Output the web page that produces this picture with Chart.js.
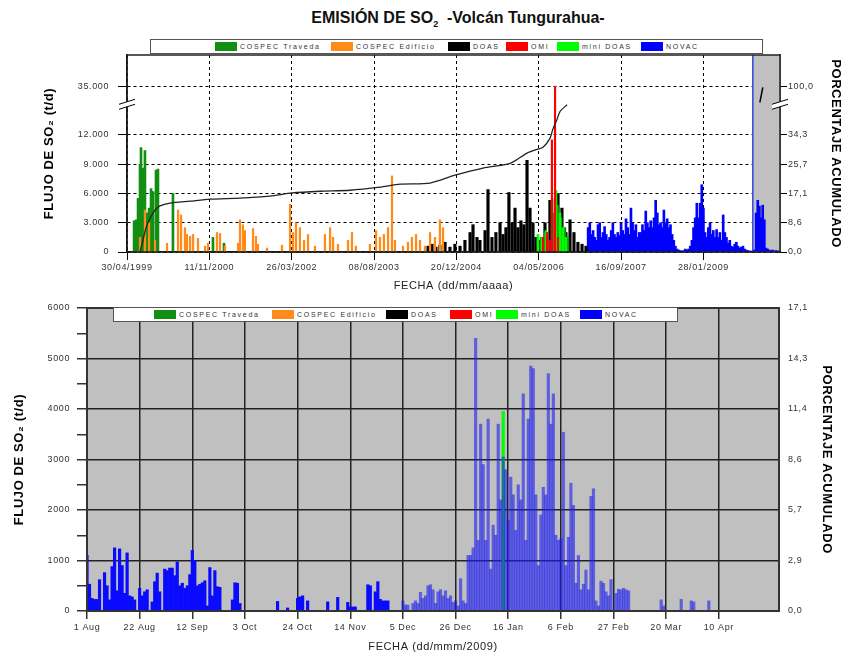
<!DOCTYPE html>
<html>
<head>
<meta charset="utf-8">
<script src="https://cdn.jsdelivr.net/npm/chart.js@4.4.1/dist/chart.umd.min.js"></script>
<style>
  body { margin:0; width:843px; height:658px; position:relative; overflow:hidden; background:#fff;
         font-family:'Liberation Sans', Arial, sans-serif; }
  #title { position:absolute; left:0; width:916px; top:9px; text-align:center; font-weight:bold; font-size:16px; color:#111; }
  #title sub { font-size:9px; }
  .wrap { position:absolute; left:0; }
  .legend { position:absolute; height:15px; box-sizing:border-box; border:1.5px solid #555; background:#fff; z-index:5; }
  .legend .it { position:absolute; top:1.5px; height:9px; display:flex; align-items:center; white-space:nowrap;
                font-size:7px; letter-spacing:1.7px; color:#333; }
  .legend .sw { display:inline-block; width:22px; height:9px; margin-right:3px; }
</style>
</head>
<body>
<div id="title">EMISIÓN DE SO<sub>2</sub>&nbsp; -Volcán Tungurahua-</div>
<div id="legendTop" class="legend" style="left:150px; top:39px; width:613px;"></div>
<div id="legendBot" class="legend" style="left:113px; top:307px; width:565px;"></div>
<div class="wrap" style="top:0; width:843px; height:300px;"><canvas id="topChart" width="843" height="300"></canvas></div>
<div class="wrap" style="top:295px; width:843px; height:363px;"><canvas id="botChart" width="843" height="363"></canvas></div>

<script>
// ---- series / legend ----
const SERIES = ['COSPEC Traveda', 'COSPEC Edificio', 'DOAS', 'OMI', 'mini DOAS', 'NOVAC'];
const SERIES_COLORS = ['#128f12', '#ff8c1a', '#000000', '#ff0000', '#00ff00', '#0000ff'];

// ---- top chart: days counted from 30/04/1999 ----
const TOP_TICK_LABELS = ['30/04/1999', '11/11/2000', '26/03/2002', '08/08/2003', '20/12/2004', '04/05/2006', '16/09/2007', '28/01/2009'];
const TOP_Y_TICKS = [0, 3000, 6000, 9000, 12000, 35000];
const TOP_Y_LABELS = ['0', '3.000', '6.000', '9.000', '12.000', '35.000'];
const TOP_PCT_LABELS = ['0,0', '8,6', '17,1', '25,7', '34,3', '100,0'];
const TOP_MAX_DAY = 3965;
const GRAY_FROM = 3800;

const TRAV_DAYS = [43, 55, 67, 79, 85, 97, 109, 121, 134, 146, 158, 176, 188, 279, 522, 589, 2514, 2538, 2580, 2599, 2617, 2635, 2659, 2677];
const TRAV_VALS = [3200, 3300, 5500, 9000, 10700, 8600, 10400, 4000, 4500, 6500, 6200, 8400, 8500, 6000, 1500, 900, 1500, 2000, 5300, 5500, 4800, 3500, 2500, 1500];

const EDIF_DAYS = [79, 109, 134, 170, 243, 310, 328, 352, 364, 383, 401, 431, 474, 492, 546, 565, 595, 674, 686, 704, 716, 765, 783, 795, 850, 941, 990, 1008, 1026, 1050, 1075, 1099, 1141, 1202, 1233, 1251, 1281, 1342, 1366, 1390, 1475, 1512, 1536, 1560, 1585, 1609, 1627, 1676, 1706, 1730, 1755, 1779, 1809, 1840, 1870, 1900, 1919];
const EDIF_VALS = [1500, 4300, 3000, 1200, 900, 4300, 3800, 2500, 1800, 1600, 1800, 1400, 600, 900, 2000, 1900, 600, 900, 3300, 2800, 2200, 2400, 1600, 800, 400, 700, 4900, 2000, 3000, 2500, 1200, 1800, 600, 1800, 2500, 1500, 800, 1200, 2000, 600, 800, 2200, 1500, 1800, 2500, 7800, 1200, 600, 1000, 1500, 1800, 1200, 600, 2000, 1500, 3300, 2500];

const DOAS_DAYS = [1828, 1852, 1876, 1900, 1931, 1961, 1991, 2022, 2052, 2083, 2101, 2125, 2143, 2174, 2192, 2216, 2240, 2265, 2283, 2301, 2319, 2338, 2356, 2374, 2392, 2410, 2429, 2447, 2465, 2483, 2508, 2538, 2568, 2599, 2617, 2641, 2665, 2690, 2714, 2738, 2763, 2787];
const DOAS_VALS = [600, 800, 500, 700, 1000, 500, 800, 600, 1200, 2000, 2800, 1500, 1200, 2200, 6400, 1500, 2000, 3000, 1800, 2500, 6100, 3000, 4500, 2500, 3200, 2800, 9400, 4500, 3000, 1500, 1200, 3000, 5300, 4000, 6000, 4500, 2000, 3300, 2000, 1000, 800, 600];

const OMI_DAYS = [2526, 2550, 2568, 2580, 2599, 2617];
const OMI_VALS = [1500, 2000, 1200, 11500, 35000, 1500];

const MINI_DAYS = [2495, 2520, 2544, 2605, 2629, 2647, 2665];
const MINI_VALS = [1800, 1500, 2200, 6300, 4000, 2500, 1500];

const NOVAC_START = 2800, NOVAC_STEP = 10;
const NOVAC_VALS = [
  2500, 3000, 1800, 2200, 1500, 1200, 2800, 3000,
  1500, 2000, 2600, 1800, 1200, 1500, 2200, 3000, 1800, 1500, 2000, 1700,
  3000, 2200, 1800, 3400, 2500, 1800, 4500, 3000, 2200, 2800, 1500, 2000,
  2000, 2800, 2200, 4200, 3000, 2500, 3200, 2500, 3500, 5300, 4000, 2800,
  3000, 2500, 4300, 3000, 3400, 2500, 2800, 1800, 1200, 600, 300, 200,
  150, 100, 150, 300, 200, 300, 600, 1200, 2500, 3500, 5000, 3500,
  5000, 6900, 4500, 2000, 1500, 2500, 3000, 1800, 2200, 1500, 2300, 1500, 2000, 1200, 3800, 2000,
  1500, 900, 1200, 600, 500, 800, 1000, 600, 400, 500, 600, 300, 200, 150, 100, 100,
  0, 200, 4000, 5300, 4700, 3500, 4800, 3300, 400, 300, 200, 150, 200, 100, 150, 100, 100
];

const CUM_DAYS = [79, 97, 115, 140, 170, 200, 261, 383, 504, 686, 868, 1002, 1172, 1354, 1536, 1658, 1840, 1991, 2162, 2326, 2429, 2490, 2526, 2568, 2586, 2611, 2629, 2672];
const CUM_PCT = [0, 3.5, 7.0, 9.9, 12.3, 13.5, 14.3, 14.9, 15.5, 15.8, 16.4, 17.3, 17.8, 18.1, 19.0, 19.9, 20.2, 22.5, 24.6, 26.0, 29.0, 30.1, 30.7, 33.3, 42.2, 55.3, 65.8, 75.0];

// ---- bottom chart: days counted from 1 Aug 2008 ----
const BOT_TICK_LABELS = ['1 Aug', '22 Aug', '12 Sep', '3 Oct', '24 Oct', '14 Nov', '5 Dec', '26 Dec', '16 Jan', '6 Feb', '27 Feb', '20 Mar', '10 Apr'];
const BOT_PCT_LABELS = ['0,0', '2,9', '5,7', '8,6', '11,4', '14,3', '17,1'];
const BOT_MAX_DAY = 276;
const BOT_DAYS = [0, 1, 2, 3, 4, 5, 7, 8, 9, 10, 11, 12, 13, 14, 15, 16, 17, 18, 19, 21, 22, 23, 24, 26, 27, 28, 29, 31, 32, 33, 34, 35, 36, 37, 38, 39, 40, 41, 42, 43, 44, 45, 46, 47, 48, 49, 50, 51, 52, 53, 58, 59, 60, 61,
  76, 80, 84, 85, 86, 88, 96, 100, 104, 105, 106, 107, 112, 113, 115, 116, 117, 118, 119, 120,
  126, 127, 128, 130, 131, 132, 133, 134, 135, 136, 137, 138, 139, 140, 141, 142, 143, 144, 145, 146, 147, 148, 149, 150, 151,
  152, 153, 154, 155, 156, 157, 158, 159, 160, 161, 162, 163, 164, 165, 166, 167, 168, 169, 170, 171, 172, 173, 174, 175, 176, 177, 178, 179, 180,
  181, 182, 183, 184, 185, 186, 187, 188, 189, 190, 191, 192, 193, 194, 195, 196, 197, 198, 199, 200, 201, 202, 203, 204, 205, 206, 207, 208, 209,
  211, 212, 213, 214, 215, 216, 229, 230, 237, 241, 242, 248];
const BOT_NOVAC = [1100, 530, 250, 230, 230, 620, 760, 500, 220, 880, 1250, 400, 1230, 900, 350, 1150, 300, 280, 220, 450, 300, 380, 420, 180, 580, 750, 380, 830, 800, 850, 850, 700, 970, 500, 550, 450, 500, 720, 1200, 1000, 500, 530, 560, 600, 100, 860, 300, 800, 480, 470, 220, 560, 550, 150,
  190, 60, 250, 280, 300, 200, 180, 270, 170, 80, 80, 80, 520, 500, 380, 580, 230, 200, 200, 200,
  200, 120, 120, 150, 200, 150, 370, 250, 300, 500, 520, 420, 150, 380, 420, 300, 400, 250, 300, 170, 200, 100, 640, 200, 150,
  1100, 1100, 1250, 5400, 1400, 3700, 2900, 1400, 3800, 830, 1700, 1500, 3700, 2200, 3050, 2800, 1800, 2650, 2300, 1600, 2500, 2200, 4300, 1400, 3800, 4850, 4800, 2300, 900,
  1900, 2450, 2300, 4700, 3700, 4300, 1500, 1400, 1430, 3540, 900, 1460, 2530, 2090, 550, 1100, 420, 530, 810, 420, 2270, 2420, 200, 100, 590, 550, 380, 300, 620,
  350, 430, 420, 450, 420, 400, 220, 100, 230, 200, 180, 200];
const BOT_MINI_DAYS = [166];
const BOT_MINI_VALS = [3950];

// axis break on the top chart: 12.000 -> 35.000 squeezed into 5.000 units
function brk(v) { return v <= 12000 ? v : 12000 + (v - 12000) * 5000 / 23000; }
function pctToFlux(p) { return p <= 34.3 ? p * 12000 / 34.3 : 12000 + (p - 34.3) * 5000 / 65.7; }
function pts(days, vals, f) { return days.map((d, i) => ({ x: d, y: f ? f(vals[i]) : vals[i] })); }

Chart.defaults.font.family = "'Liberation Sans', Arial, sans-serif";
Chart.defaults.color = '#333';

// legends (html boxes like the original)
function buildLegend(id, lefts) {
  const box = document.getElementById(id);
  SERIES.forEach((name, i) => {
    const it = document.createElement('div');
    it.className = 'it';
    it.style.left = lefts[i] + 'px';
    it.innerHTML = `<span class="sw" style="background:${SERIES_COLORS[i]}"></span>${name}`;
    box.appendChild(it);
  });
}
buildLegend('legendTop', [64, 180, 297, 355, 406, 490]);
buildLegend('legendBot', [40, 158, 272, 336, 382, 466]);

function frame(ctx, a, w, color) {
  ctx.save();
  ctx.strokeStyle = color; ctx.lineWidth = w;
  ctx.strokeRect(a.left, a.top, a.right - a.left, a.bottom - a.top);
  ctx.restore();
}
function breakMark(ctx, x, y) {
  ctx.save();
  ctx.fillStyle = '#fff';
  ctx.beginPath();
  ctx.moveTo(x - 8, y + 1); ctx.lineTo(x + 8, y - 4); ctx.lineTo(x + 8, y + 1); ctx.lineTo(x - 8, y + 6);
  ctx.closePath(); ctx.fill();
  ctx.strokeStyle = '#000'; ctx.lineWidth = 1;
  ctx.beginPath();
  ctx.moveTo(x - 8, y + 1); ctx.lineTo(x + 8, y - 4);
  ctx.moveTo(x - 8, y + 6); ctx.lineTo(x + 8, y + 1);
  ctx.stroke();
  ctx.restore();
}

// slightly spaced lettering, as in the original
const spacing = {
  id: 'spacing',
  beforeDraw(chart) { chart.ctx.letterSpacing = '0.6px'; }
};

const topDecor = {
  id: 'topDecor',
  beforeDatasetsDraw(chart) {
    const { ctx, chartArea: a, scales: { x } } = chart;
    const gx = x.getPixelForValue(GRAY_FROM);
    ctx.save();
    ctx.fillStyle = '#c0c0c0';
    ctx.fillRect(gx, a.top, a.right - gx, a.bottom - a.top);
    ctx.strokeStyle = '#3344dd'; ctx.lineWidth = 1.5;
    ctx.beginPath(); ctx.moveTo(gx, a.top); ctx.lineTo(gx, a.bottom); ctx.stroke();
    ctx.restore();
  },
  afterDraw(chart) {
    const { ctx, chartArea: a, scales: { x, y } } = chart;
    frame(ctx, a, 1.5, '#222');
    const by = y.getPixelForValue(15250);
    breakMark(ctx, a.left, by);
    breakMark(ctx, a.right, by);
    const gx = x.getPixelForValue(GRAY_FROM);
    ctx.save();
    ctx.strokeStyle = '#000'; ctx.lineWidth = 1.5;
    ctx.beginPath(); ctx.moveTo(gx + 7, by - 1); ctx.lineTo(gx + 10, by - 16); ctx.stroke();
    ctx.restore();
  }
};

const botDecor = {
  id: 'botDecor',
  beforeDraw(chart) {
    const { ctx, chartArea: a } = chart;
    ctx.save();
    ctx.fillStyle = '#c0c0c0';
    ctx.fillRect(a.left, a.top, a.right - a.left, a.bottom - a.top);
    ctx.restore();
  },
  afterDraw(chart) { frame(chart.ctx, chart.chartArea, 2, '#333'); }
};

const tickFont = { size: 9 };
const axTitle = { size: 13, weight: 'bold' };

function barSet(label, color, data, thick) {
  return { type: 'bar', label, data, backgroundColor: color, barThickness: thick, grouped: false, borderWidth: 0 };
}

// ---------- top chart ----------
new Chart(document.getElementById('topChart'), {
  type: 'bar',
  data: {
    datasets: [
      { type: 'line', label: 'acumulado', data: pts(CUM_DAYS, CUM_PCT, pctToFlux), borderColor: '#222', borderWidth: 1.3,
        pointRadius: 0, tension: 0.25, fill: false },
      barSet(SERIES[3], SERIES_COLORS[3], pts(OMI_DAYS, OMI_VALS, brk), 1.5),
      barSet(SERIES[4], SERIES_COLORS[4], pts(MINI_DAYS, MINI_VALS, brk), 2),
      barSet(SERIES[1], SERIES_COLORS[1], pts(EDIF_DAYS, EDIF_VALS, brk), 1.6),
      barSet(SERIES[0], SERIES_COLORS[0], pts(TRAV_DAYS, TRAV_VALS, brk), 2),
      barSet(SERIES[2], SERIES_COLORS[2], pts(DOAS_DAYS, DOAS_VALS, brk), 2.5),
      barSet(SERIES[5], SERIES_COLORS[5], NOVAC_VALS.map((v, i) => ({ x: NOVAC_START + i * NOVAC_STEP, y: v })), 2)
    ]
  },
  options: {
    responsive: false, animation: false,
    layout: { padding: { top: 55, left: 0, right: 0, bottom: 0 } },
    plugins: { legend: { display: false }, tooltip: { enabled: false } },
    scales: {
      x: {
        type: 'linear', min: 0, max: TOP_MAX_DAY, offset: false,
        afterBuildTicks: s => { s.ticks = TOP_TICK_LABELS.map((_, i) => ({ value: i * 500 })); },
        afterFit: s => { s.height = 48; },
        ticks: { callback: (v, i) => TOP_TICK_LABELS[i], font: tickFont, maxRotation: 0, autoSkip: false, padding: 2 },
        grid: { offset: false, color: '#000', lineWidth: 1, tickLength: 8 },
        border: { dash: [3, 3], color: '#000', width: 1.5 },
        title: { display: true, text: 'FECHA (dd/mm/aaaa)', font: { size: 11 }, color: '#222', padding: { top: 0, bottom: 7 } }
      },
      y: {
        type: 'linear', position: 'left', min: 0, max: 20200,
        afterBuildTicks: s => { s.ticks = TOP_Y_TICKS.map(v => ({ value: brk(v) })); },
        afterFit: s => { s.width = 127; },
        ticks: { callback: (v, i) => TOP_Y_LABELS[i], font: tickFont, padding: 9 },
        grid: { color: '#000', lineWidth: 1, tickLength: 9 },
        border: { dash: [3, 3], color: '#000', width: 1.5 },
        title: { display: true, text: 'FLUJO DE SO₂ (t/d)', font: axTitle, color: '#000', padding: { top: 42, bottom: 0 } }
      },
      y2: {
        type: 'linear', position: 'right', min: 0, max: 20200,
        afterBuildTicks: s => { s.ticks = TOP_Y_TICKS.map(v => ({ value: brk(v) })); },
        afterFit: s => { s.width = 63; },
        ticks: { callback: (v, i) => TOP_PCT_LABELS[i], font: tickFont, padding: 1 },
        grid: { drawOnChartArea: false, color: '#000', tickLength: 7 },
        border: { dash: [3, 3], color: '#000', width: 1.5 },
        title: { display: true, text: 'PORCENTAJE ACUMULADO', font: axTitle, color: '#000', padding: { top: 0, bottom: 0 } }
      }
    }
  },
  plugins: [spacing, topDecor]
});

// ---------- bottom chart ----------
new Chart(document.getElementById('botChart'), {
  type: 'bar',
  data: {
    datasets: [
      { type: 'bar', label: SERIES[5], data: pts(BOT_DAYS, BOT_NOVAC), grouped: false, borderWidth: 0,
        barPercentage: 1, categoryPercentage: 1,
        backgroundColor: c => (c.raw && c.raw.x < 124) ? '#0a0aff' : 'rgba(30,30,240,0.6)' },
      { type: 'bar', label: SERIES[4], data: pts(BOT_MINI_DAYS, BOT_MINI_VALS), grouped: false, borderWidth: 0,
        barPercentage: 1, categoryPercentage: 1, backgroundColor: SERIES_COLORS[4] }
    ]
  },
  options: {
    responsive: false, animation: false,
    layout: { padding: { top: 13, left: 0, right: 0, bottom: 0 } },
    plugins: { legend: { display: false }, tooltip: { enabled: false } },
    scales: {
      x: {
        type: 'linear', min: 0, max: BOT_MAX_DAY, offset: false,
        afterBuildTicks: s => { s.ticks = BOT_TICK_LABELS.map((_, i) => ({ value: i * 21 })); },
        afterFit: s => { s.height = 47; },
        ticks: { callback: (v, i) => BOT_TICK_LABELS[i], font: tickFont, maxRotation: 0, autoSkip: false, padding: 3 },
        grid: { offset: false, color: '#222', lineWidth: 1.5, tickLength: 8, tickColor: '#333' },
        border: { color: '#333', width: 2 },
        title: { display: true, text: 'FECHA (dd/mmm/2009)', font: { size: 11 }, color: '#222', padding: { top: 0, bottom: 4 } }
      },
      y: {
        type: 'linear', position: 'left', min: 0, max: 6000,
        afterFit: s => { s.width = 87; },
        ticks: { stepSize: 500, autoSkip: false, font: tickFont, padding: 7, callback: v => (v % 1000 === 0 ? String(v) : '') },
        grid: { color: c => (c.tick && c.tick.value % 1000 === 0) ? '#222' : 'rgba(0,0,0,0)', tickColor: '#333',
                lineWidth: 1.5, tickLength: 10 },
        border: { color: '#333', width: 2 },
        title: { display: true, text: 'FLUJO DE SO₂ (t/d)', font: axTitle, color: '#000', padding: { top: 12, bottom: 0 } }
      },
      y2: {
        type: 'linear', position: 'right', min: 0, max: 6000,
        afterFit: s => { s.width = 64; },
        ticks: { stepSize: 1000, font: tickFont, padding: 3, callback: (v, i) => BOT_PCT_LABELS[i] },
        grid: { drawOnChartArea: false, tickColor: 'rgba(0,0,0,0)', tickLength: 6 },
        border: { color: '#333', width: 2 },
        title: { display: true, text: 'PORCENTAJE ACUMULADO', font: axTitle, color: '#000', padding: { top: 9, bottom: 0 } }
      }
    }
  },
  plugins: [spacing, botDecor]
});
</script>
</body>
</html>
